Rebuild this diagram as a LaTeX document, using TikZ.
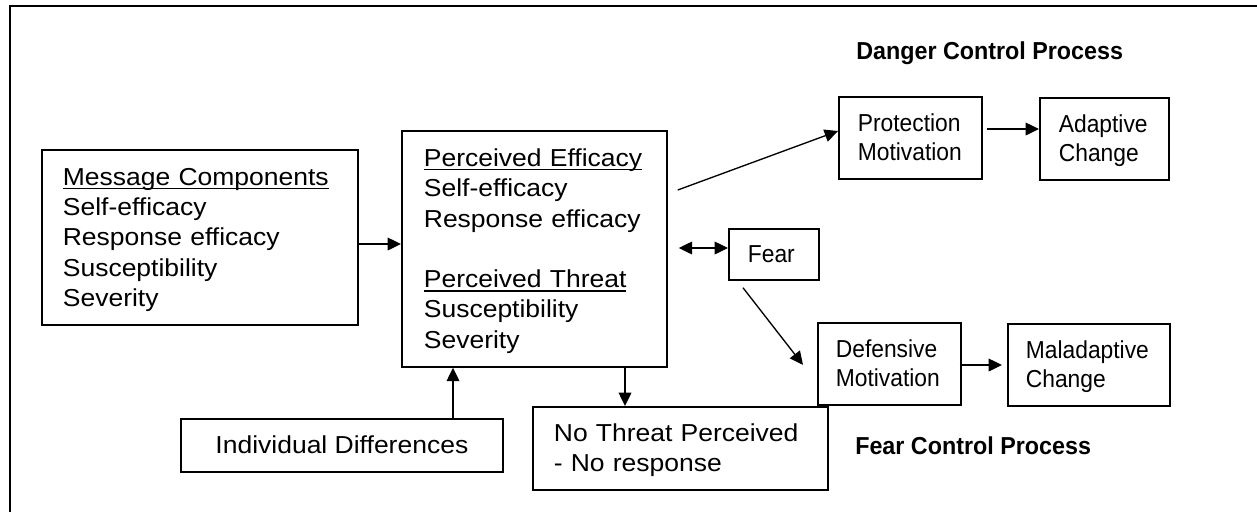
\documentclass[tikz,border=0pt]{standalone}
\usepackage{fontspec}
\setmainfont{Liberation Sans}
\newfontfamily\lft[FakeStretch=1.08]{Liberation Sans}
\newfontfamily\rgt[FakeStretch=0.93]{Liberation Sans}
\newfontfamily\bld[FakeStretch=0.95]{Liberation Sans}
\usetikzlibrary{arrows.meta,calc}
\newcommand\mystrut{\vrule width 0pt height 16.6pt depth 4pt\relax}
\newcommand\ulx[1]{\leavevmode\setbox0\hbox{#1}\rlap{\vrule height -1.8pt depth 3pt width \wd0}\box0}
\begin{document}
\begin{tikzpicture}[x=0.75pt,y=-0.75pt,
  box/.style={draw, line width=1.3pt, rectangle, anchor=north west, align=left, inner ysep=0pt,
    execute at begin node=\mystrut, execute at end node=\mystrut},
  lfont/.style={font=\lft\fontsize{18.4pt}{22.7pt}\selectfont},
  rfont/.style={font=\rgt\fontsize{18.4pt}{22pt}\selectfont},
  arr/.style={line width=1pt, -{Triangle[length=10pt,width=9.5pt]}},
  darr/.style={line width=1pt, {Triangle[length=10pt,width=9.5pt]}-{Triangle[length=10pt,width=9.5pt]}},
  lbl/.style={anchor=base west, inner sep=0pt, font=\bld\bfseries\fontsize{18.4pt}{22pt}\selectfont}]
\useasboundingbox (0,0) rectangle (1257,512);
\draw[line width=1.5pt] (1257,5.5) -- (10,5.5) -- (10,512);

\node[box, lfont, minimum width=237pt, minimum height=131.25pt, inner xsep=15.75pt, text width=205.5pt] (mc) at (41,149)
  {\ulx{Message Components}\\Self-efficacy\\Response efficacy\\Susceptibility\\Severity};
\node[box, lfont, minimum width=198.75pt, minimum height=177pt, inner xsep=16.5pt, text width=165.75pt] (pe) at (401,130)
  {\ulx{Perceived Efficacy}\\Self-efficacy\\Response efficacy\\\mbox{}\\\ulx{Perceived Threat}\\Susceptibility\\Severity};
\node[box, lfont, align=center, minimum width=241.5pt, minimum height=39.75pt, inner xsep=0pt] (id) at (180,418)
  {Individual Differences};
\node[box, lfont, minimum width=221.25pt, minimum height=62.25pt, inner xsep=15.75pt, text width=189.75pt] (ntp) at (532,406)
  {No Threat Perceived\\- No response};
\node[box, rfont, minimum width=107.25pt, minimum height=61.5pt, inner xsep=14.25pt, text width=78.75pt] (prot) at (838,96)
  {Protection\\Motivation};
\node[box, rfont, minimum width=96.75pt, minimum height=61.5pt, inner xsep=14.25pt, text width=68.25pt] (adapt) at (1039,97)
  {Adaptive\\Change};
\node[box, rfont, minimum width=67.5pt, minimum height=38.25pt, inner xsep=14.25pt, text width=39pt] (fear) at (728,228)
  {Fear};
\node[box, rfont, minimum width=107.25pt, minimum height=61.5pt, inner xsep=13.5pt, text width=80.25pt] (def) at (817,322)
  {Defensive\\Motivation};
\node[box, rfont, minimum width=121.5pt, minimum height=61.5pt, inner xsep=13.5pt, text width=94.5pt] (mal) at (1007,323)
  {Maladaptive\\Change};

\node[lbl] (dcp) at (856,59) {Danger Control Process};
\node[lbl] (fcp) at (855,454) {Fear Control Process};

\draw[arr] (mc.east |- 0,244) -- (pe.west |- 0,244);
\draw[arr] (id.north -| 453,0) -- (pe.south -| 453,0);
\draw[arr] (pe.south -| 625,0) -- (ntp.north -| 625,0);
\draw[arr] ($(pe.east |- 0,190)+(10,0)$) -- (prot.west |- 0,131);
\draw[arr] ($(prot.east |- 0,129)+(4,0)$) -- (adapt.west |- 0,129);
\draw[darr] ($(pe.east |- 0,248)+(11,0)$) -- (fear.west |- 0,248);
\draw[arr] ($(fear.south west)+(15,7)$) -- ($(def.west)+(-14,1)$);
\draw[arr] ($(def.east |- 0,365)+(-2,0)$) -- ($(mal.west |- 0,365)+(-5,0)$);
\end{tikzpicture}
\end{document}
